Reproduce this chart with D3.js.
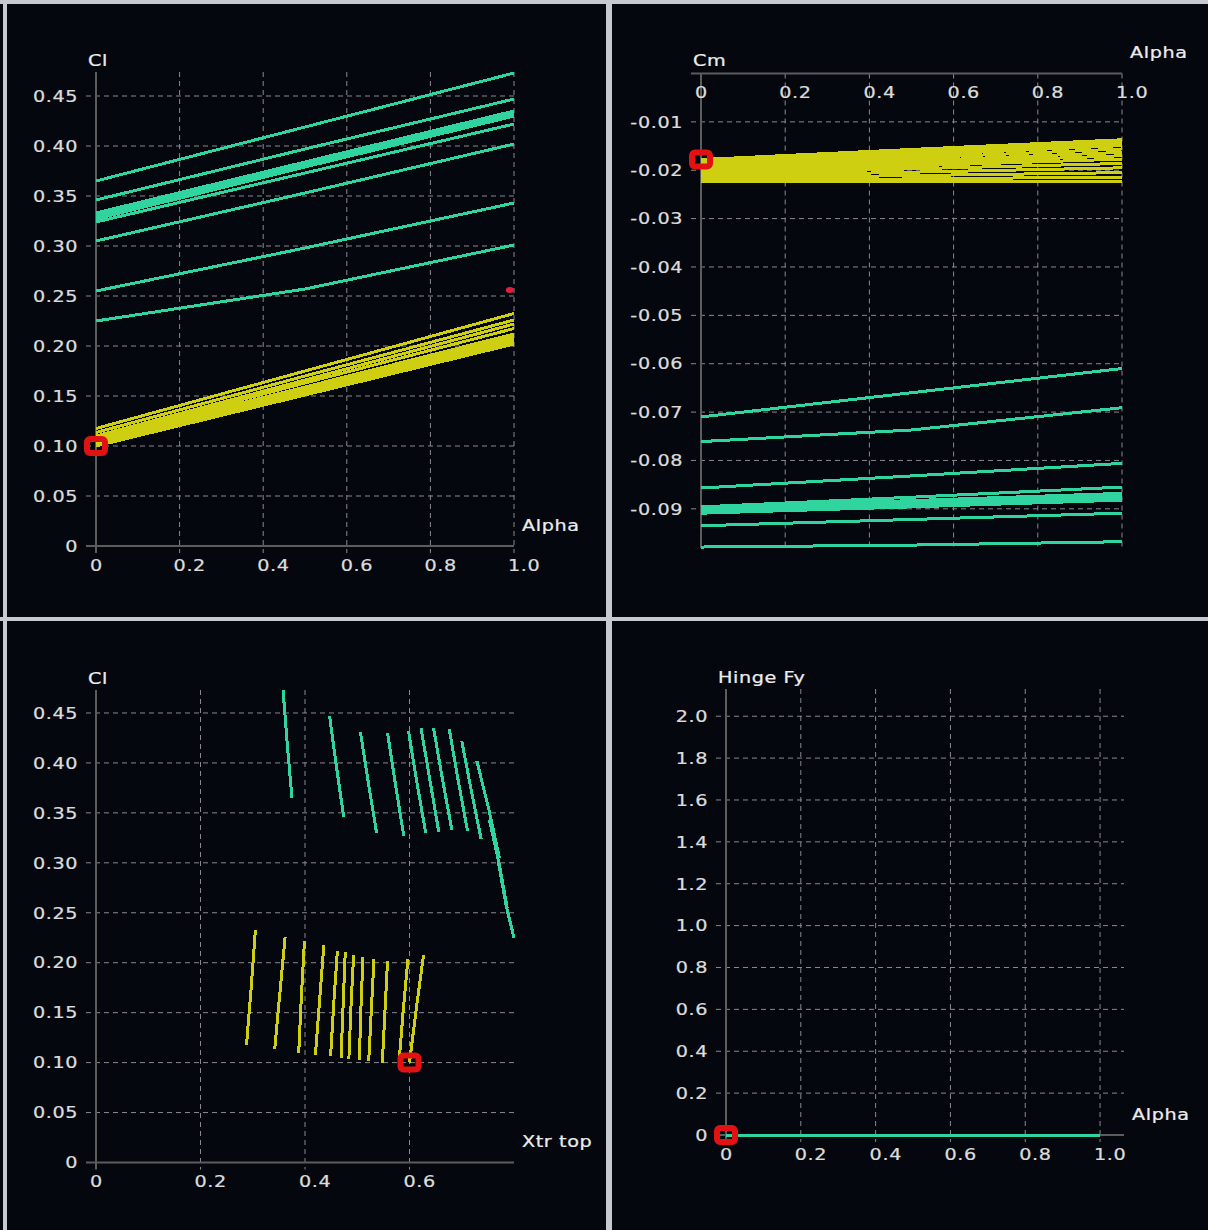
<!DOCTYPE html>
<html lang="en">
<head>
<meta charset="UTF-8">
<title>Polar graphs</title>
<script src="https://d3js.org/d3.v7.min.js"></script>
<style>
  body { margin: 0; background: #04070d; }
  svg { display: block; }
  text { font-family: "DejaVu Sans", Verdana, sans-serif; }
</style>
</head>
<body>
<div id="chart"></div>
<script>
// alpha values where each curve is sampled
const alphaPts = [0, 0.5, 1.0];

// green polars (one row per curve)
const greenCl = [
  [0.365, 0.419, 0.473], [0.346, 0.397, 0.447], [0.330, 0.381, 0.431],
  [0.327, 0.379, 0.430], [0.330, 0.381, 0.432], [0.331, 0.383, 0.435],
  [0.333, 0.384, 0.435], [0.332, 0.383, 0.434], [0.324, 0.373, 0.422],
  [0.305, 0.353, 0.402], [0.255, 0.298, 0.343], [0.225, 0.257, 0.301]
];
const greenCm = [
  [-0.0979, -0.0975, -0.0968], [-0.0935, -0.0922, -0.0909], [-0.0909, -0.0896, -0.0882],
  [-0.0906, -0.0892, -0.0878], [-0.0903, -0.0889, -0.0875], [-0.0900, -0.0886, -0.0872],
  [-0.0898, -0.0883, -0.0868], [-0.0896, -0.0876, -0.0855], [-0.0902, -0.0888, -0.0874],
  [-0.0857, -0.0832, -0.0806], [-0.0761, -0.0737, -0.0691], [-0.0710, -0.0660, -0.0610]
];
const greenXtr = [
  [0.375, 0.366, 0.358], [0.474, 0.460, 0.447], [0.537, 0.521, 0.506],
  [0.589, 0.573, 0.558], [0.631, 0.614, 0.598], [0.656, 0.639, 0.622],
  [0.681, 0.663, 0.646], [0.711, 0.693, 0.676], [0.737, 0.718, 0.700],
  [0.772, 0.752, 0.729], [0.787, 0.772, 0.753], [0.800, 0.785, 0.770]
];

// yellow polars
const yellowCl = [
  [0.1175, 0.175, 0.2325], [0.1135, 0.170, 0.226], [0.110, 0.166, 0.222],
  [0.108, 0.163, 0.2175], [0.1065, 0.159, 0.212], [0.105, 0.158, 0.2105],
  [0.104, 0.156, 0.2075], [0.1025, 0.154, 0.2055], [0.102, 0.153, 0.2035],
  [0.100, 0.151, 0.202], [0.101, 0.152, 0.204], [0.100, 0.154, 0.208]
];
const yellowCm = [
  [-0.0224, -0.0224, -0.0224], [-0.0221, -0.0218, -0.0214], [-0.0217, -0.0211, -0.0205],
  [-0.0213, -0.0204, -0.0195], [-0.0209, -0.0197, -0.0186], [-0.0205, -0.0191, -0.0177],
  [-0.0201, -0.0186, -0.0170], [-0.0197, -0.0181, -0.0163], [-0.0193, -0.0175, -0.0156],
  [-0.0189, -0.0169, -0.0149], [-0.0184, -0.0163, -0.0143], [-0.0178, -0.0157, -0.0137]
];
const yellowXtr = [
  [0.288, 0.297, 0.305], [0.342, 0.352, 0.362], [0.388, 0.393, 0.399],
  [0.420, 0.428, 0.436], [0.449, 0.455, 0.462], [0.469, 0.473, 0.477],
  [0.484, 0.488, 0.493], [0.504, 0.507, 0.511], [0.522, 0.527, 0.532],
  [0.548, 0.553, 0.558], [0.580, 0.588, 0.597], [0.600, 0.613, 0.627]
];

// hinge force is zero everywhere
const hingeFy = [0, 0, 0];

// highlighted operating point: yellow curve index, sample index
const selCurve = 11, selPt = 0;
// stray red point on the Cl / Alpha graph [alpha, Cl]
const strayPoint = [0.99, 0.256];

// tick values
const clTicks = [0, 0.05, 0.10, 0.15, 0.20, 0.25, 0.30, 0.35, 0.40, 0.45];
const cmTicks = [-0.01, -0.02, -0.03, -0.04, -0.05, -0.06, -0.07, -0.08, -0.09];
const alphaTicks = [0, 0.2, 0.4, 0.6, 0.8, 1.0];
const xtrTicks = [0, 0.2, 0.4, 0.6];
const hingeTicks = [0, 0.2, 0.4, 0.6, 0.8, 1.0, 1.2, 1.4, 1.6, 1.8, 2.0];

const GREEN = '#2fd49f', YELLOW = '#cfcf12', RED = '#e21212';
const GRID = '#8a8a8e', AXIS = '#5c5c5c', LABEL = '#dcdcdc', TITLE = '#ececec';

const svg = d3.select('#chart').append('svg')
  .attr('width', 1208).attr('height', 1230);

svg.append('rect').attr('width', 1208).attr('height', 1230).attr('fill', '#04070d');

// panel frame
const frame = svg.append('g').attr('fill', '#c6c9cd');
frame.append('rect').attr('x', 0).attr('y', 0).attr('width', 1208).attr('height', 4);
frame.append('rect').attr('x', 3).attr('y', 0).attr('width', 4).attr('height', 1230);
frame.append('rect').attr('x', 606).attr('y', 0).attr('width', 6).attr('height', 1230);
frame.append('rect').attr('x', 0).attr('y', 617).attr('width', 1208).attr('height', 4);

const fmt2 = v => v === 0 ? '0' : v.toFixed(2);
const fmt1 = v => v === 0 ? '0' : v.toFixed(1);

// text is drawn a bit wide, like the original screen font
function label(sel, x, y, anchor, col) {
  return sel.append('text')
    .attr('transform', `translate(${x},${y}) scale(1.2,1)`)
    .attr('dy', '0.36em').attr('text-anchor', anchor)
    .attr('font-size', 16).attr('letter-spacing', 0.5)
    .attr('fill', col).attr('stroke', col).attr('stroke-width', 0.25);
}

function drawPanel(p) {
  const g = svg.append('g');
  const x = d3.scaleLinear().domain(p.xDomain).range(p.xRange);
  const y = d3.scaleLinear().domain(p.yDomain).range(p.yRange);
  const x0 = p.xRange[0], x1 = p.xRange[1];
  const yTop = Math.min(p.yRange[0], p.yRange[1]);
  const yBot = Math.max(p.yRange[0], p.yRange[1]);
  const axisY = p.xAxisTop ? yTop : yBot;

  // horizontal grid
  g.selectAll('.hg').data(p.yTicks.filter(v => y(v) !== axisY)).enter().append('line')
    .attr('x1', x0 - 10).attr('x2', x1)
    .attr('y1', d => y(d)).attr('y2', d => y(d))
    .attr('stroke', GRID).attr('stroke-width', 1).attr('stroke-dasharray', '5,4');
  // vertical grid
  g.selectAll('.vg').data(p.xGrid).enter().append('line')
    .attr('x1', d => x(d)).attr('x2', d => x(d))
    .attr('y1', yTop).attr('y2', p.xAxisTop ? yBot : yBot + 7)
    .attr('stroke', GRID).attr('stroke-width', 1).attr('stroke-dasharray', '5,4');

  // axes
  g.append('line').attr('x1', x0).attr('x2', x0)
    .attr('y1', yTop).attr('y2', p.xAxisTop ? yBot : yBot + 7)
    .attr('stroke', AXIS).attr('stroke-width', 2);
  g.append('line').attr('x1', x0 - 10).attr('x2', x1)
    .attr('y1', axisY).attr('y2', axisY)
    .attr('stroke', AXIS).attr('stroke-width', 2);

  // tick labels
  p.yTicks.forEach(v => label(g, x0 - 18, y(v), 'end', LABEL).text(p.yFmt(v)));
  p.xTicks.forEach(v => label(g, x(v) - 6, axisY + 19, 'start', LABEL).text(fmt1(v)));

  // axis titles
  label(g, x0 - 8, p.yTitleY, 'start', TITLE).text(p.yTitle);
  label(g, x1 + 8, axisY - 21, 'start', TITLE).text(p.xTitle);

  // curves
  const line = d3.line().x(d => x(d[0])).y(d => y(d[1]));
  const curves = g.append('g').attr('fill', 'none').attr('shape-rendering', 'crispEdges');
  [[p.yellow, YELLOW], [p.green, GREEN]].forEach(([set, col]) => {
    curves.selectAll(null).data(set).enter().append('path')
      .attr('d', line).attr('stroke', col).attr('stroke-width', 3);
  });

  // selected point marker
  const m = p.marker;
  g.append('rect')
    .attr('x', x(m[0]) - 9).attr('y', y(m[1]) - 7)
    .attr('width', 18).attr('height', 14).attr('rx', 3)
    .attr('fill', 'none').attr('stroke', RED).attr('stroke-width', 6);
  if (p.stray) {
    g.append('ellipse').attr('cx', x(p.stray[0])).attr('cy', y(p.stray[1]))
      .attr('rx', 4).attr('ry', 3).attr('fill', '#e0203a');
  }
}

// build point lists
const vsAlpha = rows => rows.map(r => alphaPts.map((a, i) => [a, r[i]]));
const vsXtr = (xs, ys) => ys.map((r, k) => r.map((v, i) => [xs[k][i], v]));

drawPanel({
  xDomain: [0, 1], xRange: [96, 514],
  yDomain: [0, 0.474], yRange: [546, 72],
  yTicks: clTicks, yFmt: fmt2, xTicks: alphaTicks, xGrid: alphaTicks.slice(1),
  yTitle: 'Cl', yTitleY: 60, xTitle: 'Alpha',
  green: vsAlpha(greenCl), yellow: vsAlpha(yellowCl),
  marker: [alphaPts[selPt], yellowCl[selCurve][selPt]], stray: strayPoint
});

drawPanel({
  xDomain: [0, 1], xRange: [701, 1122], xAxisTop: true,
  yDomain: [0, -0.0981], yRange: [73.5, 548],
  yTicks: cmTicks, yFmt: fmt2, xTicks: alphaTicks, xGrid: alphaTicks.slice(1),
  yTitle: 'Cm', yTitleY: 60, xTitle: 'Alpha',
  green: vsAlpha(greenCm), yellow: vsAlpha(yellowCm),
  marker: [alphaPts[selPt], yellowCm[selCurve][selPt]]
});

drawPanel({
  xDomain: [0, 0.8], xRange: [96, 514],
  yDomain: [0, 0.473], yRange: [1162.5, 690],
  yTicks: clTicks, yFmt: fmt2, xTicks: xtrTicks, xGrid: xtrTicks.slice(1),
  yTitle: 'Cl', yTitleY: 678, xTitle: 'Xtr top',
  green: vsXtr(greenXtr, greenCl), yellow: vsXtr(yellowXtr, yellowCl),
  marker: [yellowXtr[selCurve][selPt], yellowCl[selCurve][selPt]]
});

drawPanel({
  xDomain: [0, 1.064], xRange: [726, 1124],
  yDomain: [0, 2.13], yRange: [1135, 689],
  yTicks: hingeTicks, yFmt: fmt1, xTicks: alphaTicks, xGrid: alphaTicks.slice(1),
  yTitle: 'Hinge Fy', yTitleY: 677, xTitle: 'Alpha',
  green: greenCl.map(() => alphaPts.map((a, i) => [a, hingeFy[i]])),
  yellow: yellowCl.map(() => alphaPts.map((a, i) => [a, hingeFy[i]])),
  marker: [alphaPts[selPt], hingeFy[selPt]]
});
</script>
</body>
</html>
